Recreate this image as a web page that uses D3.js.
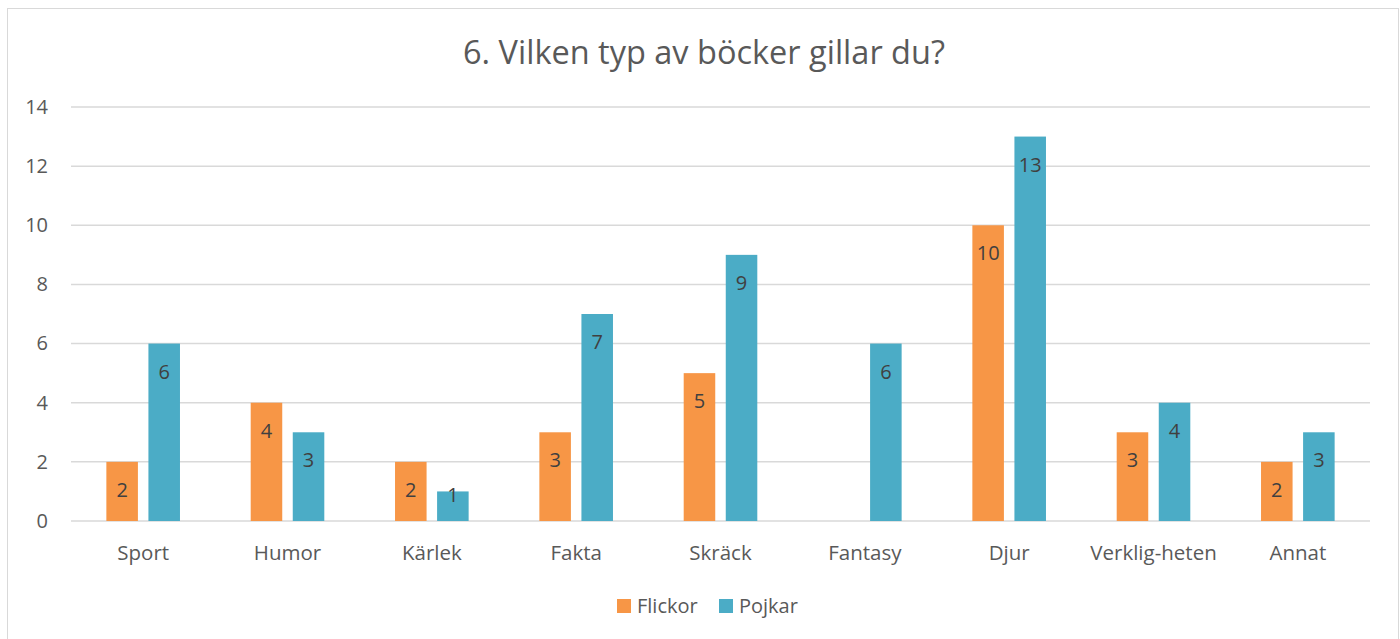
<!DOCTYPE html>
<html>
<head>
<meta charset="utf-8">
<script src="https://cdn.jsdelivr.net/npm/d3@7"></script>
<style>
  body { margin: 0; background: #fff; }
  svg { font-family: "Open Sans", Lato, sans-serif; }
</style>
</head>
<body>
<div id="chart"></div>
<script>
const categories = ['Sport', 'Humor', 'Kärlek', 'Fakta', 'Skräck', 'Fantasy', 'Djur', 'Verklig-heten', 'Annat']
const flickor = [2, 4, 2, 3, 5, null, 10, 3, 2]
const pojkar = [6, 3, 1, 7, 9, 6, 13, 4, 3]
const seriesNames = ['Flickor', 'Pojkar']
const yTicks = [0, 2, 4, 6, 8, 10, 12, 14]

const colors = {Flickor: '#F79646', Pojkar: '#4BACC6'}
const W = 1400, H = 639
const margin = {top: 107, right: 30, bottom: 118, left: 71}
const width = W - margin.left - margin.right
const height = H - margin.top - margin.bottom
const font = '"Open Sans", Lato, sans-serif'

const svg = d3.select('#chart').append('svg')
  .attr('width', W)
  .attr('height', H)

// chart frame
svg.append('rect')
  .attr('x', 7.5).attr('y', 8.5)
  .attr('width', W - 9).attr('height', H + 10)
  .attr('fill', '#fff')
  .attr('stroke', '#d9d9d9')

svg.append('text')
  .attr('x', 704).attr('y', 64)
  .attr('text-anchor', 'middle')
  .attr('font-size', 32.5)
  .attr('fill', '#595959')
  .text('6. Vilken typ av böcker gillar du?')

const g = svg.append('g')
  .attr('transform', 'translate(' + margin.left + ',' + margin.top + ')')

const x0 = d3.scaleBand().domain(categories).range([0, width]).paddingInner(0.49).paddingOuter(0.245)
const x1 = d3.scaleBand().domain(seriesNames).range([0, x0.bandwidth()]).paddingInner(0.25)
const y = d3.scaleLinear().domain([0, 14]).range([height, 0])

// gridlines
g.append('g')
  .selectAll('line')
  .data(yTicks)
  .join('line')
  .attr('x1', 0).attr('x2', width)
  .attr('y1', d => y(d)).attr('y2', d => y(d))
  .attr('stroke', '#d9d9d9')
  .attr('stroke-width', 1.5)

// y axis
const yAxis = g.append('g')
  .call(d3.axisLeft(y).tickValues(yTicks).tickSize(0).tickPadding(23))
yAxis.select('.domain').remove()
yAxis.selectAll('text').attr('font-size', 20).attr('fill', '#595959').attr('font-family', font)

// x axis labels
const xAxis = g.append('g')
  .attr('transform', 'translate(0,' + height + ')')
  .call(d3.axisBottom(x0).tickSize(0).tickPadding(24))
xAxis.select('.domain').remove()
xAxis.selectAll('text').attr('font-size', 20.5).attr('fill', '#595959').attr('font-family', font)

const rows = categories.map((c, i) => ({cat: c, values: [
  {name: 'Flickor', value: flickor[i]},
  {name: 'Pojkar', value: pojkar[i]}
].filter(d => d.value != null)}))

const groups = g.append('g')
  .selectAll('g')
  .data(rows)
  .join('g')
  .attr('transform', d => 'translate(' + x0(d.cat) + ',0)')

groups.selectAll('rect')
  .data(d => d.values)
  .join('rect')
  .attr('x', d => x1(d.name))
  .attr('y', d => y(d.value))
  .attr('width', x1.bandwidth())
  .attr('height', d => height - y(d.value))
  .attr('fill', d => colors[d.name])

// labels sit inside the bar end; short bars get them pushed to the top
groups.selectAll('text')
  .data(d => d.values)
  .join('text')
  .attr('x', d => x1(d.name) + x1.bandwidth() / 2)
  .attr('y', d => (height - y(d.value) >= 56 ? y(d.value) + 28 : y(d.value) + 4))
  .attr('dy', '0.35em')
  .attr('text-anchor', 'middle')
  .attr('font-size', 20)
  .attr('fill', '#404040')
  .text(d => d.value)

// legend
const legend = svg.append('g').attr('transform', 'translate(617,599)')
const items = legend.selectAll('g')
  .data(seriesNames)
  .join('g')
  .attr('transform', (d, i) => 'translate(' + (i * 102) + ',0)')
items.append('rect')
  .attr('width', 14).attr('height', 14)
  .attr('fill', d => colors[d])
items.append('text')
  .attr('x', 20).attr('y', 7)
  .attr('dy', '0.35em')
  .attr('font-size', 20)
  .attr('fill', '#595959')
  .text(d => d)
</script>
</body>
</html>
